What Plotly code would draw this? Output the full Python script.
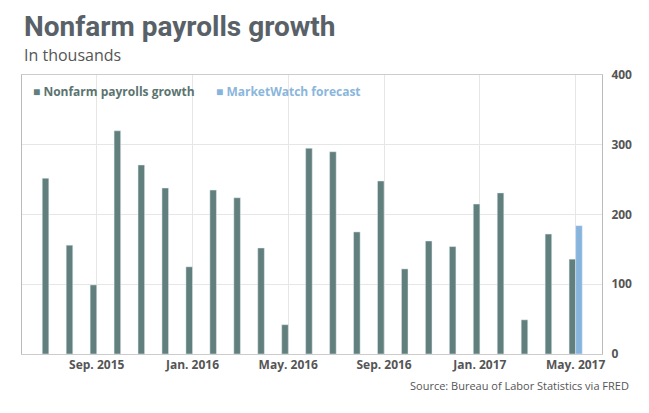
import plotly.graph_objects as go

months = ["Jul 2015", "Aug 2015", "Sep 2015", "Oct 2015", "Nov 2015", "Dec 2015",
          "Jan 2016", "Feb 2016", "Mar 2016", "Apr 2016", "May 2016", "Jun 2016",
          "Jul 2016", "Aug 2016", "Sep 2016", "Oct 2016", "Nov 2016", "Dec 2016",
          "Jan 2017", "Feb 2017", "Mar 2017", "Apr 2017", "May 2017"]
payrolls = [252, 156, 99, 320, 271, 238, 125, 235, 224, 152, 42, 295,
            290, 175, 248, 122, 162, 154, 215, 231, 49, 172, 136]
forecast_month = ["May 2017"]
forecast = [184]

tick_vals = ["Sep 2015", "Jan 2016", "May 2016", "Sep 2016", "Jan 2017", "May 2017"]
tick_text = ["Sep. 2015", "Jan. 2016", "May. 2016", "Sep. 2016", "Jan. 2017", "May. 2017"]
y_ticks = [0, 100, 200, 300, 400]

C_BAR = "#617f7c"
C_FC = "#86b4dc"
FONT = "Open Sans"

fig = go.Figure()
fig.add_trace(go.Bar(x=months, y=payrolls, marker_color=C_BAR, name="Nonfarm payrolls growth",
                     showlegend=False))
fig.add_trace(go.Bar(x=forecast_month, y=forecast, marker_color=C_FC, name="MarketWatch forecast",
                     showlegend=False))

fig.update_layout(
    width=649, height=413,
    margin=dict(l=22, r=47, t=75, b=59),
    paper_bgcolor="white", plot_bgcolor="white",
    barmode="group", bargap=0.45, bargroupgap=0,
    font=dict(family=FONT, color="#555"),
    xaxis=dict(type="category", categoryorder="array", categoryarray=months,
               range=[-1.12, 23.1], tickvals=tick_vals, ticktext=tick_text,
               showgrid=True, gridcolor="#e6e6e6", gridwidth=1,
               showline=True, linecolor="#cccccc", mirror=True, ticks="",
               tickfont=dict(family=FONT, size=12, color="#555", weight="bold")),
    yaxis=dict(range=[0, 400], tickvals=y_ticks, side="right",
               showgrid=True, gridcolor="#e6e6e6", gridwidth=1,
               showline=True, linecolor="#bbbbbb", mirror=True, ticks="",
               zeroline=False, ticklabelstandoff=6,
               tickfont=dict(family=FONT, size=12, color="#555", weight="bold")),
)


def px_x(x):
    return (x - 22) / 580


def px_y(y):
    return (354 - y) / 279


fig.add_annotation(text="<b>Nonfarm payrolls growth</b>", xref="paper", yref="paper",
                   x=px_x(22), y=px_y(27), xanchor="left", yanchor="middle", showarrow=False,
                   font=dict(family="Roboto", size=28, color="#596168"))
fig.add_annotation(text="In thousands", xref="paper", yref="paper",
                   x=px_x(22), y=px_y(55), xanchor="left", yanchor="middle", showarrow=False,
                   font=dict(family=FONT, size=16, color="#555"))
fig.add_annotation(text=f"<span style='color:{C_BAR}'>■</span> <b>Nonfarm payrolls growth</b>",
                   xref="paper", yref="paper", x=px_x(31), y=px_y(91),
                   xanchor="left", yanchor="middle", showarrow=False,
                   font=dict(family=FONT, size=12, color="#5b7470"))
fig.add_annotation(text=f"<span style='color:{C_FC}'>■</span> <b>MarketWatch forecast</b>",
                   xref="paper", yref="paper", x=px_x(214), y=px_y(91),
                   xanchor="left", yanchor="middle", showarrow=False,
                   font=dict(family=FONT, size=12, color="#8ab6dc"))
fig.add_annotation(text="Source: Bureau of Labor Statistics via FRED",
                   xref="paper", yref="paper", x=px_x(631), y=px_y(385),
                   xanchor="right", yanchor="middle", showarrow=False,
                   font=dict(family=FONT, size=11, color="#555"))

fig.write_html("out.html", config={"displayModeBar": False},
               post_script="document.body.style.margin='0';")
